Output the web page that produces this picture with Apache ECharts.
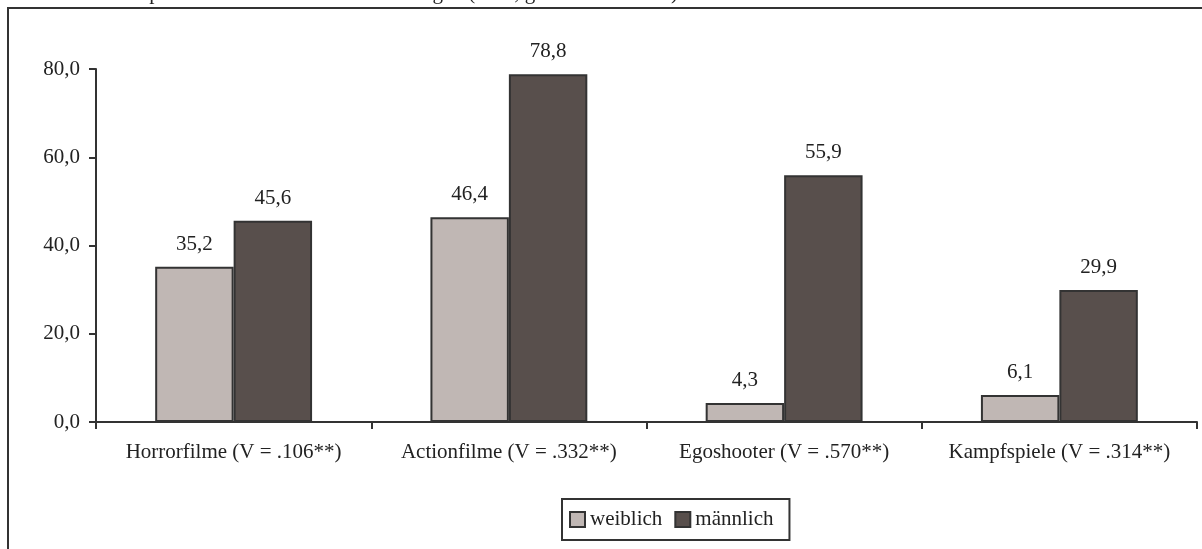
<!DOCTYPE html>
<html>
<head>
<meta charset="utf-8">
<script src="https://cdn.jsdelivr.net/npm/echarts@6/dist/echarts.min.js"></script>
<style>
html,body{margin:0;padding:0;background:#fff;}
#c{width:1202px;height:549px;}
</style>
</head>
<body>
<div id="c"></div>
<script>
const categories = ['Horrorfilme (V = .106**)', 'Actionfilme (V = .332**)', 'Egoshooter (V = .570**)', 'Kampfspiele (V = .314**)'];
const seriesNames = ['weiblich', 'männlich'];
const weiblich = [35.2, 46.4, 4.3, 6.1];
const maennlich = [45.6, 78.8, 55.9, 29.9];
const yTicks = [0, 20, 40, 60, 80];
const titleText = 'Filme und Videospiele nach Geschlecht der Nutzungen (in %, gewichtete Daten)';

const FONT = '"Liberation Serif", "DejaVu Serif", serif';
const fmt = v => v.toFixed(1).replace('.', ',');
const chart = echarts.init(document.getElementById('c'), null, {renderer: 'canvas'});
chart.setOption({
  animation: false,
  backgroundColor: '#fff',
  textStyle: {fontFamily: FONT},
  graphic: [
    {type: 'text', left: 0, top: -17, style: {text: titleText, font: '21px ' + FONT, fill: '#222'}},
    {type: 'rect', shape: {x: 8, y: 8, width: 1300, height: 700}, style: {fill: 'none', stroke: '#333', lineWidth: 2}, z: -1}
  ],
  legend: {
    data: seriesNames,
    left: 562, top: 499,
    orient: 'horizontal',
    icon: 'rect',
    itemWidth: 15, itemHeight: 15, itemGap: 12,
    padding: [10, 16, 10, 7],
    borderColor: '#333', borderWidth: 2,
    textStyle: {fontFamily: FONT, fontSize: 21, color: '#222'},
    itemStyle: {borderColor: '#333', borderWidth: 2}
  },
  grid: {left: 96, right: 5, top: 69, bottom: 127, containLabel: false},
  xAxis: {
    type: 'category',
    data: categories,
    axisLine: {lineStyle: {color: '#333', width: 2}},
    axisTick: {show: true, interval: 0, length: 7, lineStyle: {color: '#333', width: 2}},
    axisLabel: {interval: 0, fontFamily: FONT, fontSize: 21, color: '#222', margin: 20}
  },
  yAxis: {
    type: 'value',
    min: 0, max: 80, interval: 20,
    axisLine: {show: true, lineStyle: {color: '#333', width: 2}},
    axisTick: {show: true, length: 7, lineStyle: {color: '#333', width: 2}},
    splitLine: {show: false},
    axisLabel: {fontFamily: FONT, fontSize: 21, color: '#222', margin: 16, formatter: v => yTicks.includes(v) ? fmt(v) : ''}
  },
  series: [
    {
      name: seriesNames[0], type: 'bar', data: weiblich,
      barGap: '0%', barCategoryGap: '43%',
      itemStyle: {color: '#c0b7b4', borderColor: '#333', borderWidth: 2},
      label: {show: true, position: 'top', distance: 12, fontFamily: FONT, fontSize: 21, color: '#222', formatter: p => fmt(p.value)}
    },
    {
      name: seriesNames[1], type: 'bar', data: maennlich,
      barGap: '0%', barCategoryGap: '43%',
      itemStyle: {color: '#584f4c', borderColor: '#333', borderWidth: 2},
      label: {show: true, position: 'top', distance: 12, fontFamily: FONT, fontSize: 21, color: '#222', formatter: p => fmt(p.value)}
    }
  ]
});
</script>
</body>
</html>
